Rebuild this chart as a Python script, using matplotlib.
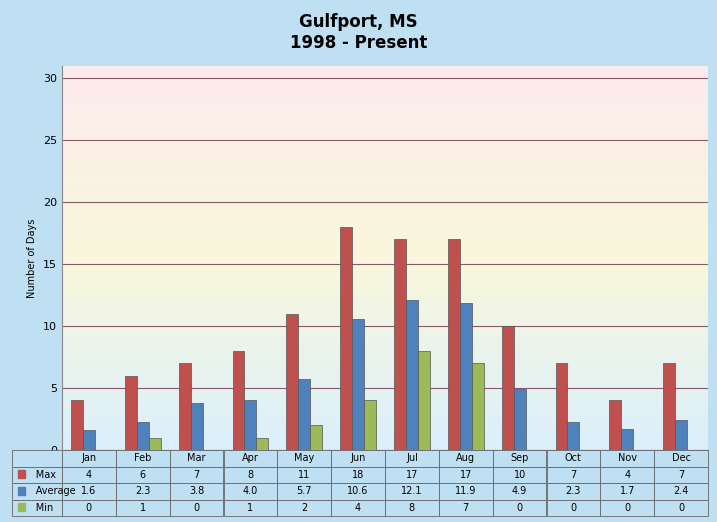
import matplotlib
matplotlib.use("Agg")
import matplotlib.pyplot as plt
import numpy as np

months = ["Jan","Feb","Mar","Apr","May","Jun","Jul","Aug","Sep","Oct","Nov","Dec"]
max_v = [4,6,7,8,11,18,17,17,10,7,4,7]
avg_v = [1.6,2.3,3.8,4.0,5.7,10.6,12.1,11.9,4.9,2.3,1.7,2.4]
min_v = [0,1,0,1,2,4,8,7,0,0,0,0]
series = ["Max","Average","Min"]
colors = ["#c0504d","#4f81bd","#9bbb59"]

W, H = 717, 522
fig = plt.figure(figsize=(W/100, H/100), dpi=100)
fig.patch.set_facecolor("#bfe0f2")
L, R, T, B = 62/W, 708/W, 1-66/H, 1-450/H
ax = fig.add_axes([L, B, R-L, T-B])
grad = np.zeros((100, 1, 3))
top = np.array([0.99, 0.92, 0.93]); mid = np.array([0.98, 0.97, 0.86]); bot = np.array([0.86, 0.94, 0.99])
for i in range(100):
    t = i/99
    if t < 0.5:
        grad[i, 0] = top*(1-2*t) + mid*(2*t)
    else:
        grad[i, 0] = mid*(2-2*t) + bot*(2*t-1)
ax.imshow(grad, extent=[-0.5, 11.5, 0, 31], aspect="auto", zorder=0)
x = np.arange(12)
w = 0.22
for k, (vals, c) in enumerate(zip([max_v, avg_v, min_v], colors)):
    ax.bar(x + (k-1)*w, vals, w, color=c, edgecolor="#555555", linewidth=0.5, zorder=3)
ax.set_xlim(-0.5, 11.5)
ax.set_ylim(0, 31)
ax.set_yticks([0,5,10,15,20,25,30])
ax.yaxis.grid(True, color="#8b5a6a", linewidth=0.8, zorder=1)
ax.set_xticks([])
ax.tick_params(axis="y", labelsize=8, length=0)
for s in ["top","right"]:
    ax.spines[s].set_visible(False)
ax.spines["left"].set_color("#888888")
ax.spines["bottom"].set_color("#888888")
ax.set_ylabel("Number of Days", fontsize=7)
fig.text(0.5, 1-22/H, "Gulfport, MS", ha="center", va="center", fontsize=12, fontweight="bold")
fig.text(0.5, 1-43/H, "1998 - Present", ha="center", va="center", fontsize=12, fontweight="bold")

cell = [months] + [[("%.1f" % v) if s == "Average" else str(v) for v in vals]
                   for s, vals in zip(series, [max_v, avg_v, min_v])]
tax = fig.add_axes([12/W, 1-516/H, R-12/W, 66/H])
tax.axis("off")
fr = (62-12)/(708-12)
tb = tax.table(cellText=cell, bbox=[fr, 0, 1-fr, 1], cellLoc="center")
tb.auto_set_font_size(False); tb.set_fontsize(7)
lab = tax.table(cellText=[[""]] + [["      " + s] for s in series], bbox=[0, 0, fr, 1], cellLoc="left")
lab.auto_set_font_size(False); lab.set_fontsize(7)
for t in (tb, lab):
    for (r, c), ce in t.get_celld().items():
        ce.set_edgecolor("#666666"); ce.set_linewidth(0.6); ce.set_facecolor("#bfe0f2")
for i, c in enumerate(colors):
    tax.add_patch(plt.Rectangle((0.008, 1-(i+1.72)/4), 0.011, 0.12, color=c, transform=tax.transAxes))
fig.savefig("out.png", dpi=100, facecolor=fig.get_facecolor())
